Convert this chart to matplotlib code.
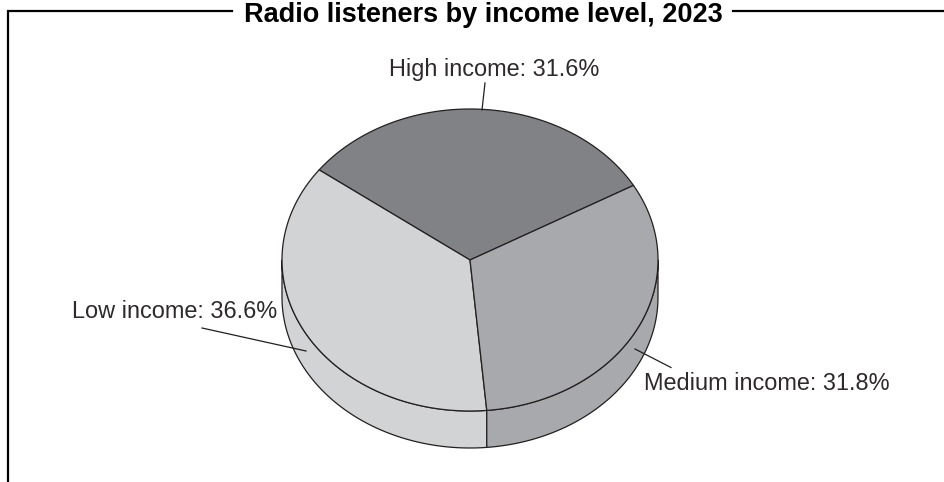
import numpy as np
import matplotlib
matplotlib.use("Agg")
import matplotlib.pyplot as plt

title = "Radio listeners by income level, 2023"
categories = ["High income", "Low income", "Medium income"]
shares = [31.6, 36.6, 31.8]
top_colors = ["#808285", "#d1d3d4", "#a7a9ac"]
wall_colors = ["#808285", "#d1d3d4", "#a7a9ac"]

W, H = 944, 482
CX, CY, RX, RY, DEPTH = 470.0, 260.0, 188.0, 151.0, 37.0
START_DEG = 29.6
INK = "#231f20"

plt.rcParams["font.family"] = ["Liberation Sans", "DejaVu Sans"]
fig = plt.figure(figsize=(W / 100, H / 100), dpi=100)
ax = fig.add_axes([0, 0, 1, 1])
ax.set_xlim(0, W)
ax.set_ylim(H, 0)
ax.axis("off")


def rim(t_deg, drop=0.0):
    t = np.radians(t_deg)
    return CX + RX * np.cos(t), CY - RY * np.sin(t) + drop


# Slice boundaries run counter-clockwise from the High/Medium edge
edges = START_DEG + np.concatenate([[0], np.cumsum(shares)]) * 3.6

# Side wall: only the front half (180-360 deg) is visible
for i, (a, b) in enumerate(zip(edges[:-1], edges[1:])):
    lo, hi = max(a, 180.0), min(b, 360.0)
    if lo < hi:
        t = np.linspace(lo, hi, 120)
        x0, y0 = rim(t)
        x1, y1 = rim(t[::-1], DEPTH)
        ax.fill(np.r_[x0, x1], np.r_[y0, y1], fc=wall_colors[i], ec=INK, lw=0.9,
                joinstyle="round", zorder=1)

# Top faces
for i, (a, b) in enumerate(zip(edges[:-1], edges[1:])):
    t = np.linspace(a, b, 160)
    x, y = rim(t)
    ax.fill(np.r_[CX, x], np.r_[CY, y], fc=top_colors[i], ec=INK, lw=0.9,
            joinstyle="round", zorder=2)

# Leader lines and labels
leaders = [((482, 110), (485, 83)), ((306, 351), (202, 328)), ((635, 349), (671, 367.5))]
label_pos = [(494.5, 76), (174.5, 318), (766.5, 390)]
for cat, val, (p, q), (lx, ly) in zip(categories, shares, leaders, label_pos):
    ax.plot([p[0], q[0]], [p[1], q[1]], color=INK, lw=0.9, zorder=3)
    ax.text(lx, ly, f"{cat}: {val}%", ha="center", va="baseline", fontsize=16.9,
            color="#2e2a2b", zorder=4)

# Open frame broken by the title
ax.plot([232, 8, 8], [10.7, 10.7, H], color="black", lw=1.6, zorder=3,
        solid_joinstyle="miter")
ax.plot([733, W], [10.7, 10.7], color="black", lw=1.6, zorder=3)
ax.text(483.5, 21.5, title, ha="center", va="baseline", fontsize=19.5,
        fontweight="bold", color="black")

fig.savefig("out.png", dpi=100)
